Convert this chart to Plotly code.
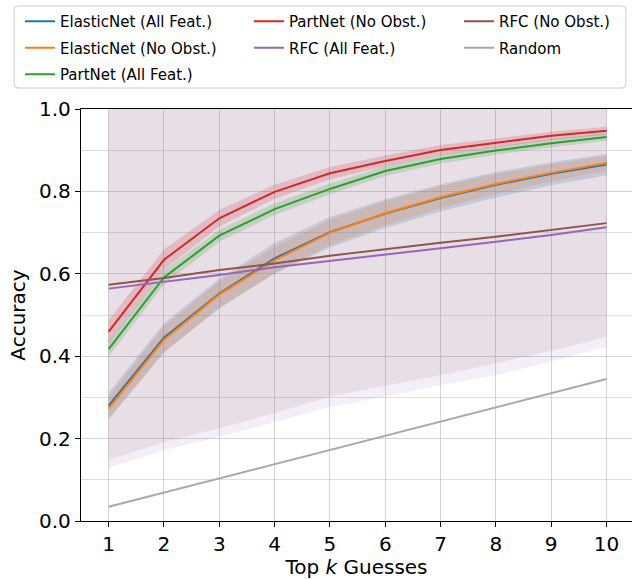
import plotly.graph_objects as go

k = [1, 2, 3, 4, 5, 6, 7, 8, 9, 10]

en_all_mean = [0.280, 0.445, 0.552, 0.6375, 0.701, 0.746, 0.784, 0.816, 0.843, 0.865]
en_all_std = [0.031, 0.035, 0.036, 0.037, 0.037, 0.035, 0.033, 0.031, 0.028, 0.026]
en_noobs_mean = [0.2735, 0.440, 0.550, 0.633, 0.700, 0.747, 0.786, 0.818, 0.845, 0.869]
en_noobs_std = [0.028, 0.032, 0.032, 0.032, 0.031, 0.029, 0.027, 0.024, 0.021, 0.018]
pn_all_mean = [0.417, 0.591, 0.6925, 0.757, 0.806, 0.8495, 0.8786, 0.899, 0.917, 0.932]
pn_all_std = [0.018, 0.017, 0.015, 0.014, 0.013, 0.012, 0.011, 0.010, 0.010, 0.009]
pn_noobs_mean = [0.4595, 0.634, 0.7347, 0.799, 0.844, 0.874, 0.9005, 0.918, 0.935, 0.947]
pn_noobs_std = [0.028, 0.025, 0.020, 0.017, 0.015, 0.013, 0.012, 0.011, 0.010, 0.010]
rfc_all_mean = [0.564, 0.581, 0.597, 0.616, 0.631, 0.647, 0.662, 0.678, 0.694, 0.713]
rfc_all_lower = [0.129, 0.172, 0.204, 0.240, 0.277, 0.302, 0.330, 0.354, 0.387, 0.423]
rfc_all_upper = [1.02, 1.02, 1.02, 1.02, 1.02, 1.02, 1.02, 1.02, 1.02, 1.02]
rfc_noobs_mean = [0.5735, 0.590, 0.609, 0.625, 0.644, 0.660, 0.6755, 0.690, 0.706, 0.723]
rfc_noobs_lower = [0.148, 0.192, 0.225, 0.262, 0.302, 0.328, 0.354, 0.383, 0.413, 0.447]
rfc_noobs_upper = [1.02, 1.02, 1.02, 1.02, 1.02, 1.02, 1.02, 1.02, 1.02, 1.02]
random_mean = [0.0345, 0.069, 0.1034, 0.1379, 0.1724, 0.2069, 0.2414, 0.2759, 0.3103, 0.3448]


def band(m, s):
    return [a - b for a, b in zip(m, s)], [a + b for a, b in zip(m, s)]


# name, mean, (lower, upper) or None, colour, band alpha, legend column, rank
series = [
    ("ElasticNet (All Feat.)", en_all_mean, band(en_all_mean, en_all_std), "#1f77b4", 0.2, "legend", 0),
    ("ElasticNet (No Obst.)", en_noobs_mean, band(en_noobs_mean, en_noobs_std), "#ff7f0e", 0.2, "legend", 1),
    ("PartNet (All Feat.)", pn_all_mean, band(pn_all_mean, pn_all_std), "#2ca02c", 0.2, "legend", 2),
    ("PartNet (No Obst.)", pn_noobs_mean, band(pn_noobs_mean, pn_noobs_std), "#d62728", 0.2, "legend2", 0),
    ("RFC (All Feat.)", rfc_all_mean, (rfc_all_lower, rfc_all_upper), "#9467bd", 0.11, "legend2", 1),
    ("RFC (No Obst.)", rfc_noobs_mean, (rfc_noobs_lower, rfc_noobs_upper), "#8c564b", 0.1, "legend3", 0),
    ("Random", random_mean, None, "#a9a9a9", 0.0, "legend3", 1),
]


def rgba(hexc, a):
    h = hexc.lstrip("#")
    r, g, b = int(h[0:2], 16), int(h[2:4], 16), int(h[4:6], 16)
    return f"rgba({r},{g},{b},{a})"


fig = go.Figure()

# bands first
for name, m, bd, c, alpha, lg, rank in series:
    if bd is None:
        continue
    lower, upper = bd
    fig.add_trace(go.Scatter(
        x=k + k[::-1], y=list(upper) + list(lower)[::-1], fill="toself",
        fillcolor=rgba(c, alpha), line=dict(width=0), mode="lines",
        showlegend=False, hoverinfo="skip"))

# lines
for name, m, bd, c, alpha, lg, rank in series:
    fig.add_trace(go.Scatter(
        x=k, y=m, mode="lines", name=name, line=dict(color=c, width=2),
        legend=lg, legendgroup=name, legendrank=rank))

FONT = "DejaVu Sans"
W, H = 632, 579
ml, mr, mt, mb = 81, 0, 109, 58
pw, ph = W - ml - mr, H - mt - mb


def px2x(p):
    return (p - ml) / pw


def py2y(p):
    return 1 + (mt - p) / ph


leg_common = dict(orientation="v", xanchor="left", yanchor="top",
                  bgcolor="rgba(0,0,0,0)", borderwidth=0,
                  font=dict(family=FONT, size=15, color="black"),
                  tracegroupgap=4, itemwidth=30)

fig.update_layout(
    width=W, height=H,
    margin=dict(l=ml, r=mr, t=mt, b=mb),
    paper_bgcolor="white", plot_bgcolor="white",
    font=dict(family=FONT, color="black"),
    legend=dict(x=px2x(20), y=py2y(5), **leg_common),
    legend2=dict(x=px2x(249), y=py2y(5), **leg_common),
    legend3=dict(x=px2x(459), y=py2y(5), **leg_common),
    xaxis=dict(
        range=[0.5, 10.46], tickvals=k, ticktext=[str(v) for v in k],
        ticks="outside", ticklen=5, tickcolor="black", tickwidth=1.2,
        showline=True, linecolor="black", linewidth=1.3, mirror=True,
        showgrid=True, gridcolor="rgba(176,176,176,0.55)", gridwidth=1,
        zeroline=False, tickfont=dict(family=FONT, size=20),
        title=dict(text="Top <i>k</i> Guesses", font=dict(family=FONT, size=20), standoff=6),
        automargin=False),
    yaxis=dict(
        range=[0, 1], tickvals=[0, 0.2, 0.4, 0.6, 0.8, 1.0],
        ticktext=["0.0", "0.2", "0.4", "0.6", "0.8", "1.0"],
        ticks="outside", ticklen=5, tickcolor="black", tickwidth=1.2,
        showline=True, linecolor="black", linewidth=1.3, mirror=False,
        showgrid=True, gridcolor="rgba(176,176,176,0.55)", gridwidth=1,
        minor=dict(tickvals=[0.1, 0.3, 0.5, 0.7, 0.9], showgrid=True,
                   gridcolor="rgba(176,176,176,0.4)", ticks=""),
        zeroline=False, tickfont=dict(family=FONT, size=20),
        title=dict(text="Accuracy", font=dict(family=FONT, size=20), standoff=8),
        automargin=False),
)

# legend frame
x0, x1 = px2x(14), px2x(626)
y0, y1 = py2y(88), py2y(6)
rx, ry = 4 / pw, 4 / ph
path = (f"M {x0+rx},{y1} L {x1-rx},{y1} Q {x1},{y1} {x1},{y1-ry} "
        f"L {x1},{y0+ry} Q {x1},{y0} {x1-rx},{y0} L {x0+rx},{y0} "
        f"Q {x0},{y0} {x0},{y0+ry} L {x0},{y1-ry} Q {x0},{y1} {x0+rx},{y1} Z")
fig.add_shape(type="path", path=path, xref="paper", yref="paper",
              line=dict(color="#cccccc", width=1), fillcolor="rgba(255,255,255,0.8)",
              layer="below")

fig.write_html("out.html", config={"displayModeBar": False},
               post_script="document.body.style.margin='0';document.body.style.overflow='hidden';")
